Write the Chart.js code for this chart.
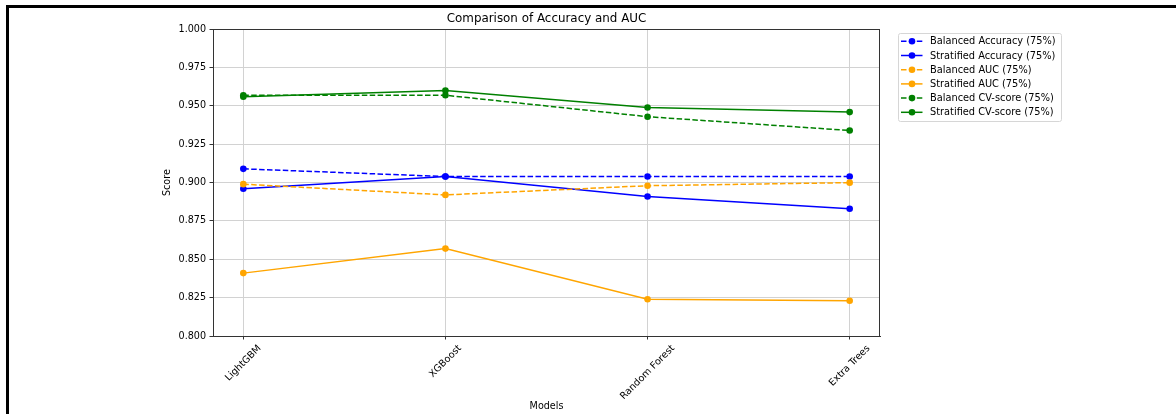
<!DOCTYPE html>
<html>
<head>
<meta charset="utf-8">
<script src="https://cdn.jsdelivr.net/npm/chart.js@4.4.1/dist/chart.umd.min.js"></script>
<style>
  html, body { margin: 0; padding: 0; background: #fff; overflow: hidden; }
  #wrap { position: relative; width: 1176px; height: 414px; }
  #wrap canvas { position: absolute; left: 0; top: 0; }
  #frame {
    position: absolute; left: 6px; top: 5px; right: -10px; bottom: -10px;
    border-left: 3px solid #000; border-top: 3px solid #000; pointer-events: none;
  }
</style>
</head>
<body>
<div id="wrap">
  <canvas id="chart" width="1176" height="414"></canvas>
  <div id="frame"></div>
</div>
<script>
// Models compared and their scores
const models = ['LightGBM', 'XGBoost', 'Random Forest', 'Extra Trees'];
const balancedAccuracy   = [0.909, 0.904, 0.904, 0.904];
const stratifiedAccuracy = [0.896, 0.904, 0.891, 0.883];
const balancedAUC        = [0.899, 0.892, 0.898, 0.900];
const stratifiedAUC      = [0.841, 0.857, 0.824, 0.823];
const balancedCV         = [0.957, 0.957, 0.943, 0.934];
const stratifiedCV       = [0.956, 0.960, 0.949, 0.946];
const yTicks = [0.800, 0.825, 0.850, 0.875, 0.900, 0.925, 0.950, 0.975, 1.000];

const FONT = '"DejaVu Sans", "Liberation Sans", sans-serif';
const DASH = [5.5, 2.4];

function series(label, values, color, dashed, idx) {
  return {
    label,
    data: values.map((v, i) => ({ x: i, y: v })),
    borderColor: color,
    backgroundColor: color,
    borderWidth: 1.5,
    borderDash: dashed ? DASH : [],
    pointRadius: 3.3,
    pointHoverRadius: 3.3,
    pointBorderWidth: 0,
    pointBackgroundColor: color,
    tension: 0,
    fill: false,
    order: 10 - idx   // later series are painted on top
  };
}

const datasets = [
  series('Balanced Accuracy (75%)',   balancedAccuracy,   '#0000ff', true,  0),
  series('Stratified Accuracy (75%)', stratifiedAccuracy, '#0000ff', false, 1),
  series('Balanced AUC (75%)',        balancedAUC,        '#ffa500', true,  2),
  series('Stratified AUC (75%)',      stratifiedAUC,      '#ffa500', false, 3),
  series('Balanced CV-score (75%)',   balancedCV,         '#008000', true,  4),
  series('Stratified CV-score (75%)', stratifiedCV,       '#008000', false, 5)
];

// Closed axes box, rotated category labels and the legend panel
const decorations = {
  id: 'decorations',
  afterDraw(chart) {
    const ctx = chart.ctx;
    const a = chart.chartArea;
    const xs = chart.scales.x;

    ctx.save();
    ctx.strokeStyle = '#333';
    ctx.lineWidth = 1;
    ctx.setLineDash([]);
    ctx.strokeRect(Math.round(a.left) + 0.5, Math.round(a.top) + 0.5,
                   Math.round(a.right - a.left) - 1, Math.round(a.bottom - a.top));
    ctx.restore();

    // category labels, rotated 45 degrees and centred under each tick
    ctx.save();
    const fs = 9.6;
    ctx.font = fs + 'px ' + FONT;
    ctx.fillStyle = '#000';
    ctx.textAlign = 'center';
    ctx.textBaseline = 'middle';
    const top = a.bottom + 7;
    const lh = fs * 1.15;
    models.forEach((m, i) => {
      const w = ctx.measureText(m).width;
      const half = (w + lh) * Math.SQRT1_2 / 2;
      ctx.save();
      ctx.translate(xs.getPixelForValue(i), top + half);
      ctx.rotate(-Math.PI / 4);
      ctx.fillText(m, 0, 0);
      ctx.restore();
    });
    ctx.restore();

    // legend
    ctx.save();
    const bx = 898, by = 33, bw = 163, bh = 88;
    ctx.beginPath();
    ctx.roundRect(bx + 0.5, by + 0.5, bw, bh, 2);
    ctx.fillStyle = 'rgba(255,255,255,0.8)';
    ctx.fill();
    ctx.strokeStyle = '#d6d6d6';
    ctx.lineWidth = 1;
    ctx.stroke();
    ctx.font = '9.8px ' + FONT;
    ctx.textAlign = 'left';
    ctx.textBaseline = 'middle';
    chart.data.datasets.forEach((ds, k) => {
      const y = 41.3 + k * 14.2;
      ctx.beginPath();
      ctx.setLineDash(ds.borderDash);
      ctx.strokeStyle = ds.borderColor;
      ctx.lineWidth = ds.borderWidth;
      ctx.moveTo(901, y);
      ctx.lineTo(922.5, y);
      ctx.stroke();
      ctx.setLineDash([]);
      ctx.beginPath();
      ctx.arc(912, y, ds.pointRadius, 0, Math.PI * 2);
      ctx.fillStyle = ds.borderColor;
      ctx.fill();
      ctx.fillStyle = '#000';
      ctx.fillText(ds.label, 930, y + 0.5);
    });
    ctx.restore();
  }
};

const gridCfg = { color: '#d2d2d2', lineWidth: 1, tickColor: '#333', tickLength: 3.5 };

new Chart(document.getElementById('chart'), {
  type: 'line',
  data: { datasets },
  options: {
    responsive: false,
    animation: false,
    devicePixelRatio: 1,
    layout: { padding: { left: 158, top: 0, right: 296, bottom: 0 } },
    plugins: {
      legend: { display: false },
      tooltip: { enabled: false },
      title: {
        display: true,
        text: 'Comparison of Accuracy and AUC',
        fullSize: false,
        color: '#000',
        font: { family: FONT, size: 11.9, weight: 'normal', lineHeight: 1.2 },
        padding: { top: 12, bottom: 3 }
      }
    },
    scales: {
      x: {
        type: 'linear',
        min: -0.15,
        max: 3.15,
        afterBuildTicks: s => { s.ticks = models.map((_, i) => ({ value: i })); },
        afterFit: s => { s.height = 78; },
        ticks: { display: false },
        grid: gridCfg,
        border: { color: '#333', width: 1 },
        title: {
          display: true, text: 'Models', color: '#000',
          font: { family: FONT, size: 9.6, lineHeight: 1.2 },
          padding: { top: 0, bottom: 2 }
        }
      },
      y: {
        type: 'linear',
        min: 0.8,
        max: 1.0,
        afterBuildTicks: s => { s.ticks = yTicks.map(v => ({ value: v })); },
        afterFit: s => { s.width = 55; },
        ticks: {
          autoSkip: false,
          color: '#000',
          padding: 3.5,
          font: { family: FONT, size: 9.6 },
          callback: v => Number(v).toFixed(3)
        },
        grid: gridCfg,
        border: { color: '#333', width: 1 },
        title: {
          display: true, text: 'Score', color: '#000',
          font: { family: FONT, size: 9.6, lineHeight: 1.2 },
          padding: { top: 4, bottom: 0 }
        }
      }
    }
  },
  plugins: [decorations]
});
</script>
</body>
</html>
